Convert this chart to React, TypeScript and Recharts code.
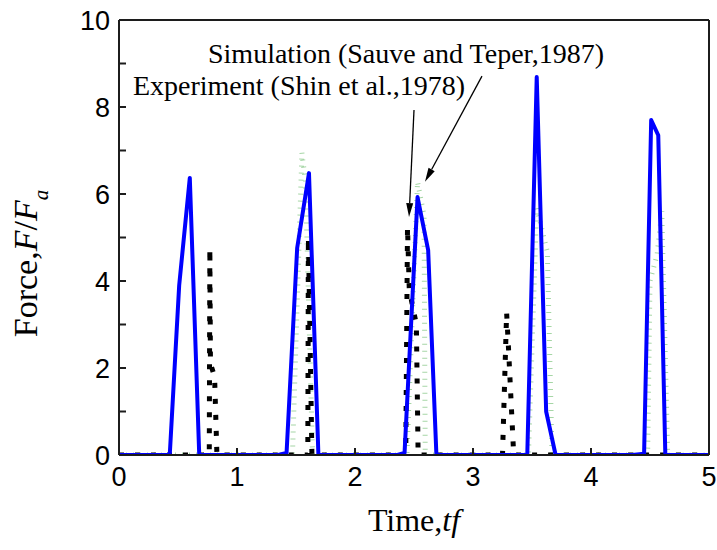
import React from 'react';
import { LineChart, Line, XAxis, YAxis, ReferenceLine } from 'recharts';

// Present model (blue solid)
const modelTime = [0, 0.43, 0.51, 0.6, 0.68, 1.35, 1.42, 1.51, 1.61, 1.69, 2.36, 2.42, 2.53, 2.62, 2.69, 3.46, 3.54, 3.62, 3.7, 4.35, 4.45, 4.51, 4.57, 4.63, 5];
const modelForce = [0, 0, 3.9, 6.37, 0, 0, 0.05, 4.76, 6.48, 0, 0, 0.05, 5.93, 4.71, 0, 0, 8.69, 1.0, 0, 0, 0.03, 7.7, 7.35, 0, 0];

// Experiment (Shin et al., 1978) - black dotted
const expTime = [0, 0.765, 0.77, 0.775, 0.81, 0.83, 1.6, 1.605, 1.635, 2.43, 2.445, 2.46, 2.52, 2.535, 3.25, 3.285, 3.3, 3.345, 5];
const expForce = [0, 0, 4.75, 2.1, 1.8, 0, 0, 5.0, 0, 0, 5.24, 3.8, 3.0, 0, 0, 3.27, 2.5, 0, 0];

// Simulation (Sauve and Teper, 1987) - light green dashes
const simTime = [0, 1.47, 1.55, 1.58, 1.64, 2.44, 2.53, 2.585, 2.595, 3.47, 3.54, 3.63, 3.67, 4.48, 4.5, 4.56, 4.6, 4.65, 5];
const simForce = [0, 0, 6.95, 6.3, 0, 0, 6.28, 5.5, 0, 0, 5.68, 4.67, 0, 0, 4.0, 4.6, 5.6, 0, 0];

const xTicks = [0, 1, 2, 3, 4, 5];
const yTicks = [0, 1, 2, 3, 4, 5, 6, 7, 8, 9, 10];

// annotation arrows (data coords)
const expArrow = [{ x: 2.5, y: 7.93 }, { x: 2.458, y: 5.47 }];
const simArrow = [{ x: 3.076, y: 8.71 }, { x: 2.593, y: 6.28 }];

const toRows = (t: number[], f: number[]) => t.map((v, i) => ({ t: v, f: f[i] }));
const modelData = toRows(modelTime, modelForce);
const expData = toRows(expTime, expForce);
const simData = toRows(simTime, simForce);

const serif = '"Liberation Serif", "Times New Roman", serif';
const sans = '"Liberation Sans", Arial, sans-serif';
const FRAME = '#1c1c1c';
const tickFont = { fontFamily: sans, fontSize: 27, fill: '#000' };
const axisLine = { stroke: FRAME, strokeWidth: 2 };
const tickLine = { stroke: FRAME, strokeWidth: 2 };

const Arrow = (props: any) => {
  const { x1, y1, x2, y2 } = props;
  const ang = Math.atan2(y2 - y1, x2 - x1);
  const len = 14;
  const half = 3.5;
  const bx = x2 - len * Math.cos(ang);
  const by = y2 - len * Math.sin(ang);
  const px = -Math.sin(ang) * half;
  const py = Math.cos(ang) * half;
  return (
    <g>
      <line x1={x1} y1={y1} x2={bx} y2={by} stroke="#000" strokeWidth={1.3} />
      <polygon points={`${x2},${y2} ${bx + px},${by + py} ${bx - px},${by - py}`} fill="#000" />
    </g>
  );
};

const YTitle = (props: any) => {
  const { x, y, height } = props.viewBox;
  const cx = x + 37;
  const cy = y + height / 2 + 26;
  return (
    <text x={cx} y={cy} transform={`rotate(-90 ${cx} ${cy})`} textAnchor="middle" fontFamily={serif} fontSize={34} fill="#000">
      Force,<tspan fontStyle="italic">F</tspan>/<tspan fontStyle="italic">F</tspan>
      <tspan fontStyle="italic" fontSize={21} dy={11}>a</tspan>
    </text>
  );
};

const XTitle = (props: any) => {
  const { x, y, width } = props.viewBox;
  return (
    <text x={x + width / 2} y={y + 76} textAnchor="middle" fontFamily={serif} fontSize={32} fill="#000">
      Time,<tspan fontStyle="italic">tf</tspan>
    </text>
  );
};

export default function App() {
  return (
    <div style={{ position: 'absolute', left: 0, top: 0, width: 717, height: 550, background: '#fff' }}>
      <LineChart width={717} height={550} margin={{ top: 20, right: 8, bottom: 0, left: 0 }}>
        {/* negative tickSize turns the ticks inward */}
        <XAxis
          dataKey="t"
          type="number"
          domain={[0, 5]}
          ticks={xTicks}
          interval={0}
          height={95}
          tickSize={-7}
          tickMargin={19}
          axisLine={axisLine}
          tickLine={tickLine}
          tick={tickFont}
          allowDataOverflow
          label={{ content: XTitle }}
        />
        <XAxis
          xAxisId="top"
          orientation="top"
          type="number"
          domain={[0, 5]}
          ticks={xTicks}
          interval={0}
          height={0}
          tickSize={-7}
          axisLine={axisLine}
          tickLine={tickLine}
          tickFormatter={() => ''}
        />
        <YAxis
          type="number"
          domain={[0, 10]}
          ticks={yTicks}
          interval={0}
          width={119}
          tickSize={-7}
          tickMargin={16}
          axisLine={axisLine}
          tickLine={tickLine}
          tick={tickFont}
          tickFormatter={(v: number) => (v % 2 === 0 ? String(v) : '')}
          allowDataOverflow
          label={{ content: YTitle }}
        />
        <YAxis
          yAxisId="right"
          orientation="right"
          type="number"
          domain={[0, 10]}
          ticks={yTicks}
          interval={0}
          width={0}
          tickSize={-7}
          axisLine={axisLine}
          tickLine={tickLine}
          tickFormatter={() => ''}
        />
        {/* plot frame */}
        <ReferenceLine x={0} stroke={FRAME} strokeWidth={2} />
        <ReferenceLine x={5} stroke={FRAME} strokeWidth={2} />
        <ReferenceLine y={10} stroke={FRAME} strokeWidth={2} />
        <ReferenceLine y={0} stroke={FRAME} strokeWidth={2} />
        <Line
          data={simData}
          dataKey="f"
          type="linear"
          stroke="#a6d6a6"
          strokeWidth={5}
          strokeDasharray="1 6"
          dot={false}
          isAnimationActive={false}
        />
        <Line
          data={expData}
          dataKey="f"
          type="linear"
          stroke="#000"
          strokeWidth={5}
          strokeDasharray="5 11"
          dot={false}
          isAnimationActive={false}
        />
        <Line
          data={modelData}
          dataKey="f"
          type="linear"
          stroke="#0000ff"
          strokeWidth={4}
          strokeLinejoin="round"
          dot={false}
          isAnimationActive={false}
        />
        <ReferenceLine segment={expArrow} shape={Arrow} />
        <ReferenceLine segment={simArrow} shape={Arrow} />
      </LineChart>
      <svg width={717} height={550} style={{ position: 'absolute', left: 0, top: 0, pointerEvents: 'none' }}>
        <text x={208} y={63} fontFamily={serif} fontSize={28} fill="#000">
          Simulation (Sauve and Teper,1987)
        </text>
        <text x={465} y={95} textAnchor="end" fontFamily={serif} fontSize={28} fill="#000">
          Experiment (Shin et al.,1978)
        </text>
      </svg>
    </div>
  );
}
